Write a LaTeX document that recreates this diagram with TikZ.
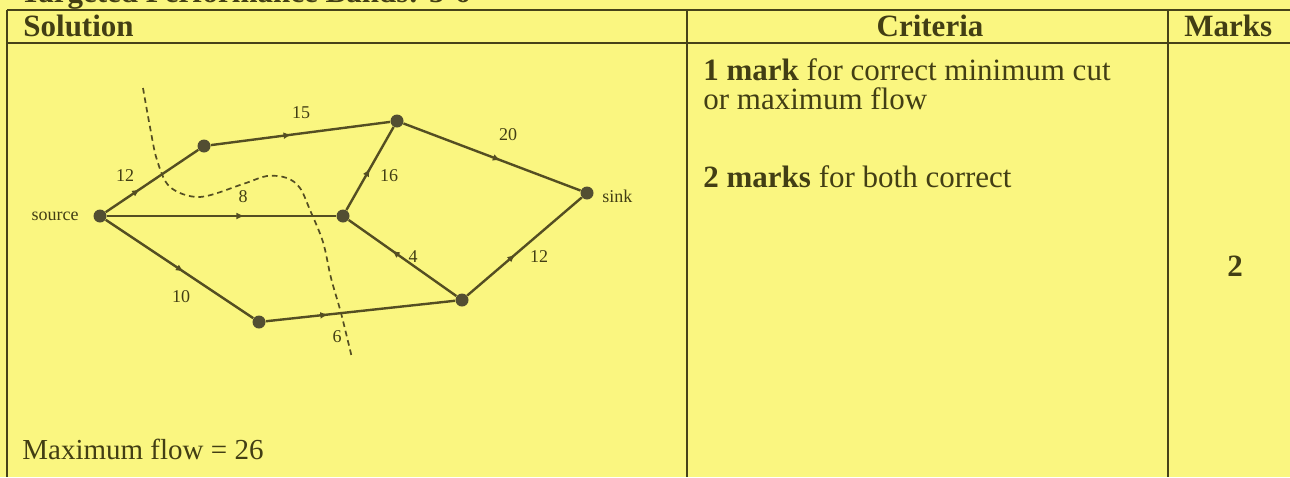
\documentclass[tikz,border=0pt]{standalone}
\usepackage{fontspec}
\setmainfont{Liberation Serif}
\usetikzlibrary{decorations.markings,arrows.meta}
\definecolor{bg}{RGB}{250,246,128}
\definecolor{ink}{RGB}{66,62,20}
\definecolor{edgec}{RGB}{84,78,34}
\definecolor{dotc}{RGB}{82,78,50}
\definecolor{rule}{RGB}{70,66,24}
\begin{document}
\begin{tikzpicture}[x=0.5pt,y=-0.5pt,
  vtx/.style={circle,fill=dotc,inner sep=0pt,minimum size=6.5pt},
  flow/.style={draw=edgec,line width=1.2pt,postaction={decorate},
    decoration={markings,mark=at position #1 with {\arrow{Latex[length=4pt,width=3.4pt]}}}},
  flow/.default=0.5,
  thinflow/.style={flow=#1,line width=0.6pt},
  thinflow/.default=0.5,
  elab/.style={text=ink,inner sep=0pt,font=\fontsize{9}{10}\selectfont},
  big/.style={text=ink,inner sep=0pt,font=\fontsize{15.5}{18}\selectfont},
  tbl/.style={draw=rule,line width=0.8pt},
  cutline/.style={draw=edgec,line width=0.85pt,dash pattern=on 2.8pt off 2pt}
]
\useasboundingbox (0,0) rectangle (1290,477);
\clip (0,0) rectangle (1290,477);
\fill[bg] (0,0) rectangle (1290,477);

% table rules
\draw[tbl] (7,10) -- (1290,10);
\draw[tbl] (7,43) -- (1290,43);
\draw[tbl] (7,10) -- (7,477);
\draw[tbl] (687,10) -- (687,477);
\draw[tbl] (1168,10) -- (1168,477);

% headings
\node[big,anchor=base west] (band) at (20,2) {\bfseries Targeted Performance Bands: 5-6};
\node[big,anchor=base west] (hsol) at (23,36) {\bfseries Solution};
\node[big,anchor=base] (hcrit) at (930,36) {\bfseries Criteria};
\node[big,anchor=base west] (hmarks) at (1184,36) {\bfseries Marks};

% criteria text
\node[big,anchor=base west] (c1) at (703,80) {\textbf{1 mark} for correct minimum cut};
\node[big,anchor=base west] (c2) at (703,109) {or maximum flow};
\node[big,anchor=base west] (c3) at (703,187) {\textbf{2 marks} for both correct};
\node[big,anchor=base] (m2) at (1235,276) {\bfseries 2};

\node[big,anchor=base west,font=\fontsize{14.5}{17}\selectfont] (maxf) at (22,459) {Maximum flow = 26};

% network
\node[vtx] (s) at (100,216) {};
\node[vtx] (a) at (204,146) {};
\node[vtx] (b) at (397,121) {};
\node[vtx] (c) at (343,216) {};
\node[vtx] (t) at (587,193) {};
\node[vtx] (d) at (462,300) {};
\node[vtx] (e) at (259,322) {};

\draw[flow=0.37] (s) -- (a);
\draw[flow=0.45] (a) -- (b);
\draw[thinflow=0.6] (s) -- (c);
\draw[flow=0.5] (c) -- (b);
\draw[flow=0.55] (b) -- (t);
\draw[flow=0.6] (d) -- (c);
\draw[flow=0.42] (d) -- (t);
\draw[flow=0.53] (s) -- (e);
\draw[flow=0.33] (e) -- (d);

\node[elab,anchor=east] (lsrc) at (79,216) {source};
\node[elab,anchor=west] (lsnk) at (602,196) {sink};
\node[elab] (l12a) at (125,176) {12};
\node[elab] (l15) at (301,113) {15};
\node[elab] (l8) at (243,197) {8};
\node[elab] (l16) at (389,176) {16};
\node[elab] (l20) at (508,135) {20};
\node[elab] (l4) at (413,257) {4};
\node[elab] (l12b) at (539,257) {12};
\node[elab] (l10) at (181,297) {10};
\node[elab] (l6) at (337,337) {6};

% cut
\draw[cutline] plot[smooth,tension=0.55] coordinates {(143,88) (150,127) (157,160) (170,187) (200,197) (243,184) (267,176) (287,178) (300,188) (310,210) (323,242) (331,278) (341,313) (352,358)};
\end{tikzpicture}
\end{document}
